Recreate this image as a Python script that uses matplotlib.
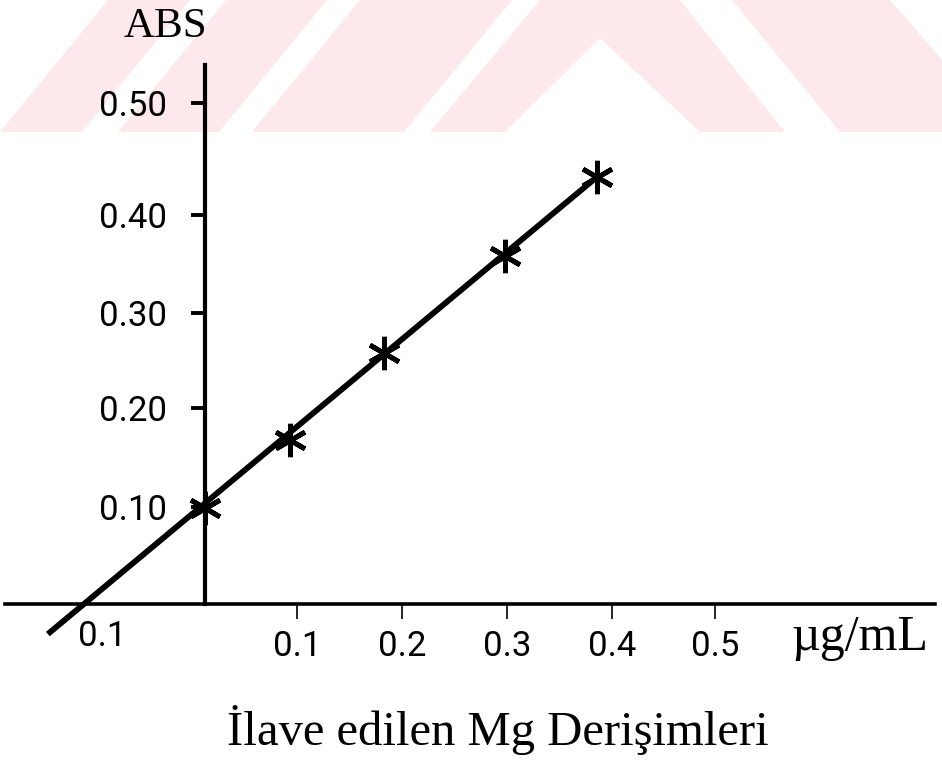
import matplotlib
matplotlib.use("Agg")
import matplotlib.pyplot as plt
from matplotlib.patches import Polygon

# --- values (standard addition, Mg) ---
added_mg = [0.0, 0.083, 0.176, 0.294, 0.384]        # ug/mL added
absorbance = [0.096, 0.164, 0.251, 0.347, 0.426]    # ABS

# drawn calibration line, runs past the x axis on the left
fit_x = [-0.154, 0.384]
fit_y = [-0.030, 0.426]

# hand drawn axes: ticks are not quite evenly spaced
xtick_pos = [0.090, 0.193, 0.296, 0.399, 0.500]
xtick_labels = ["0.1", "0.2", "0.3", "0.4", "0.5"]
ytick_pos = [0.097, 0.196, 0.290, 0.388, 0.500]
ytick_labels = ["0.10", "0.20", "0.30", "0.40", "0.50"]
neg_label_x = -0.101     # the "0.1" left of the origin
neg_label_text = "0.1"

# faint pink watermark at the top (pixel corners of the shapes)
W, H = 942, 763
watermark = [
    [(0, 132), (82, 132), (190, 0), (108, 0)],
    [(118, 132), (219, 132), (327, 0), (226, 0)],
    [(252, 132), (404, 132), (512, 0), (360, 0)],
    [(430, 132), (505, 132), (600, 38), (700, 132), (785, 132), (680, 0), (540, 0)],
    [(840, 132), (942, 132), (942, 60), (890, 0), (732, 0)],
]

fig = plt.figure(figsize=(W / 100, H / 100), dpi=100)
fig.patch.set_facecolor("white")

for shape in watermark:
    pts = [(x / W, 1 - y / H) for x, y in shape]
    fig.add_artist(Polygon(pts, closed=True, transform=fig.transFigure,
                           facecolor="#fde8ec", edgecolor="none", zorder=0))

# axes box placed so that x=0 sits at the vertical axis line
ax = fig.add_axes([5 / W, 1 - 660 / H, 930 / W, 595 / H])
ax.set_facecolor("none")
ax.set_xlim(-0.196, 0.7157)
ax.set_ylim(-0.0559, 0.538)

for side in ["top", "right"]:
    ax.spines[side].set_visible(False)
ax.spines["left"].set_position(("data", 0))
ax.spines["bottom"].set_position(("data", 0))
ax.spines["left"].set_bounds(0, 0.538)
ax.spines["left"].set_linewidth(3.0)
ax.spines["bottom"].set_linewidth(2.6)

tick_font = {"family": "Roboto", "weight": "normal", "size": 25, "color": "black"}

ax.set_xticks(xtick_pos)
ax.set_xticklabels(xtick_labels, fontdict=tick_font)
ax.set_yticks(ytick_pos)
ax.set_yticklabels(ytick_labels, fontdict=tick_font)
ax.tick_params(axis="x", direction="out", length=11, width=1.2, pad=8)
ax.tick_params(axis="y", direction="out", length=10, width=2.8, pad=17)

# line and points
ax.plot(fit_x, fit_y, color="black", linewidth=4.2, solid_capstyle="butt", zorder=3)
ax.plot(added_mg, absorbance, linestyle="none", marker=(6, 2, 0),
        markersize=24, markeredgewidth=3.5, color="black", zorder=4)

ax.text(neg_label_x, -0.032, neg_label_text, ha="center", va="center", **tick_font)

# labels
serif = "Liberation Serif"
fig.text(165 / W, 1 - 37 / H, "ABS", family=serif, fontsize=31,
         ha="center", va="baseline")
fig.text(860 / W, 1 - 650 / H, "\u00b5g/mL", family=serif, fontsize=36,
         ha="center", va="baseline")
fig.text(498 / W, 1 - 745 / H, "\u0130lave edilen Mg Deri\u015fimleri",
         family=serif, fontsize=35, ha="center", va="baseline")

fig.savefig("out.png", dpi=100)
